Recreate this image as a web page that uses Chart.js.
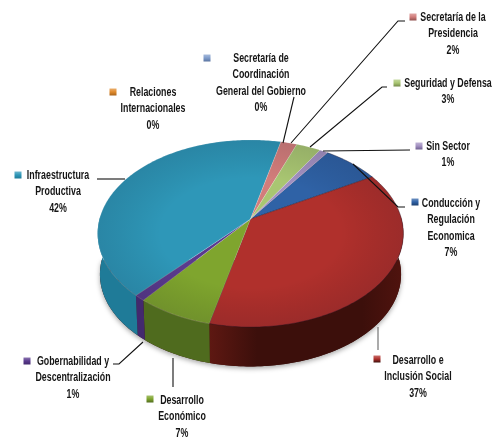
<!DOCTYPE html>
<html>
<head>
<meta charset="utf-8">
<style>
  html, body { margin: 0; padding: 0; background: #fff; }
  canvas { display: block; }
</style>
<script src="https://cdn.jsdelivr.net/npm/chart.js@4"></script>
</head>
<body>
<canvas id="grafico" width="492" height="437"></canvas>
<script>
const categories = ['Conducción y Regulación Economica', 'Desarrollo e Inclusión Social', 'Desarrollo Económico',
  'Gobernabilidad y Descentralización', 'Infraestructura Productiva', 'Relaciones Internacionales',
  'Secretaría de Coordinación General del Gobierno', 'Secretaría de la Presidencia', 'Seguridad y Defensa', 'Sin Sector'];
const values = [7, 37, 7, 1, 42, 0, 0, 2, 3, 1];
const colors = ['#2f62a6', '#b0302c', '#7fa52e', '#5a3a8e', '#2e97b8', '#e08a2c', '#7f9ccb', '#d27d7b', '#a9c672', '#a391c2'];
const wallColors = ['#1d3f6e', '#3c0f0b', '#4f6b1e', '#43296e', '#1f7b98', '#a8641c', '#5a74a0', '#8f4f4d', '#74894a', '#6f6090'];

// text lines of each label, the percentage is added from values
const labelLines = [
  ['Conducción y', 'Regulación', 'Economica'],
  ['Desarrollo e', 'Inclusión Social'],
  ['Desarrollo', 'Económico'],
  ['Gobernabilidad y', 'Descentralización'],
  ['Infraestructura', 'Productiva'],
  ['Relaciones', 'Internacionales'],
  ['Secretaría de', 'Coordinación', 'General del Gobierno'],
  ['Secretaría de la', 'Presidencia'],
  ['Seguridad y Defensa'],
  ['Sin Sector']
];
// [marker x, marker y, text center x, first line y]
const labelPos = [
  [415, 202, 451, 203], [377, 359, 418, 360], [150, 399, 182, 400], [27, 361, 73, 361], [18, 175, 58, 175],
  [113, 92, 153, 92], [207, 58, 261, 58], [413, 17, 453, 17], [397, 83, 448, 83], [419, 146, 448, 146]
];
const leaders = [
  [[405, 207], [398, 207], [353, 164]],
  [[378, 327], [378, 350]],
  [[173, 358], [173, 387]],
  [[113, 364], [119, 364], [143, 342]],
  [[97, 179], [125, 179]],
  [],
  [[294, 97], [283, 143]],
  [[405, 21], [398, 21], [291, 143]],
  [[387, 87], [382, 87], [310, 147]],
  [[410, 150], [323, 151]]
];

const pie = { cx: 250.5, cy: 219, r: 151, squash: 91.3, persp: 0.155, depth: 41 };

// a point of the rim, seen in perspective
function rim(a, bottom) {
  const den = 1 - pie.persp * Math.sin(a);
  const k = bottom ? 0.985 : 1;
  return [
    pie.cx + k * pie.r * Math.cos(a) / den,
    pie.cy + k * pie.squash * Math.sin(a) / den + (bottom ? pie.depth : 0)
  ];
}

function traceRim(ctx, from, to, bottom) {
  const steps = Math.max(2, Math.ceil(Math.abs(to - from) * 60));
  for (let i = 0; i <= steps; i++) {
    const p = rim(from + (to - from) * i / steps, bottom);
    ctx.lineTo(p[0], p[1]);
  }
}

const pie3d = {
  id: 'pie3d',
  beforeDatasetsDraw(chart) {
    const ctx = chart.ctx;
    const arcs = chart.getDatasetMeta(0).data;
    const full = Math.PI * 2;

    ctx.save();
    // soft shadow under the pie
    ctx.shadowColor = 'rgba(0,0,0,0.35)';
    ctx.shadowBlur = 5;
    ctx.shadowOffsetY = 2;
    ctx.fillStyle = '#3a0f0b';
    ctx.beginPath();
    traceRim(ctx, 0, Math.PI, true);
    ctx.closePath();
    ctx.fill();
    ctx.restore();

    // walls, only the front half shows
    arcs.forEach((arc, i) => {
      if (!values[i]) return;
      for (const shift of [0, -full, full]) {
        const from = Math.max(arc.startAngle + shift, -0.04);
        const to = Math.min(arc.endAngle + shift, Math.PI + 0.04);
        if (to <= from) continue;
        const a = rim(from, false), b = rim(to, false);
        const grad = ctx.createLinearGradient(a[0], 0, b[0], 0);
        if (i === 1) {
          grad.addColorStop(0, '#4f130e');
          grad.addColorStop(0.2, '#3c0f0b');
          grad.addColorStop(0.75, wallColors[i]);
          grad.addColorStop(1, '#5e1812');
        } else {
          grad.addColorStop(0, wallColors[i]);
          grad.addColorStop(1, wallColors[i]);
        }
        ctx.fillStyle = grad;
        ctx.beginPath();
        traceRim(ctx, from, to, false);
        traceRim(ctx, to, from, true);
        ctx.closePath();
        ctx.fill();
      }
    });

    // top face
    arcs.forEach((arc, i) => {
      if (!values[i]) return;
      ctx.fillStyle = arc.options.backgroundColor;
      ctx.strokeStyle = i === 0 || i === 1 ? 'rgba(30,20,40,0.45)' : 'rgba(255,255,255,0.22)';
      ctx.lineWidth = 0.8;
      ctx.beginPath();
      ctx.moveTo(pie.cx, pie.cy);
      traceRim(ctx, arc.startAngle, arc.endAngle, false);
      ctx.closePath();
      ctx.fill();
      ctx.stroke();
    });

    // the rim of the face gets slightly darker
    ctx.save();
    ctx.beginPath();
    traceRim(ctx, 0, full, false);
    ctx.closePath();
    ctx.clip();
    ctx.translate(pie.cx, 233);
    ctx.scale(1, 93 / 153);
    const shade = ctx.createRadialGradient(0, 0, 90, 0, 0, 153);
    shade.addColorStop(0, 'rgba(0,0,0,0)');
    shade.addColorStop(1, 'rgba(10,10,30,0.12)');
    ctx.fillStyle = shade;
    ctx.fillRect(-160, -160, 320, 320);
    ctx.restore();

    return false;
  },
  // returning false above also skips afterDatasetsDraw, so labels go here
  afterDraw(chart) {
    const ctx = chart.ctx;
    ctx.save();
    ctx.lineWidth = 1.1;
    leaders.forEach((pts, i) => {
      if (!pts.length) return;
      ctx.strokeStyle = i === 1 ? '#666' : '#111';
      ctx.beginPath();
      pts.forEach((p, j) => j ? ctx.lineTo(p[0], p[1]) : ctx.moveTo(p[0], p[1]));
      ctx.stroke();
    });

    ctx.textAlign = 'center';
    ctx.textBaseline = 'middle';
    ctx.font = 'bold 13px "Liberation Sans", sans-serif';
    categories.forEach((name, i) => {
      const [mx, my, tx, ty] = labelPos[i];
      const grad = ctx.createLinearGradient(0, my - 3.5, 0, my + 3.5);
      grad.addColorStop(0, colors[i] + 'b0');
      grad.addColorStop(0.5, colors[i]);
      grad.addColorStop(1, wallColors[i]);
      ctx.fillStyle = grad;
      ctx.fillRect(mx - 3.5, my - 3.5, 7, 7);

      ctx.fillStyle = '#151515';
      labelLines[i].concat(values[i] + '%').forEach((line, j) => {
        // no narrow face installed, squeeze the text to the reference width
        ctx.save();
        ctx.translate(tx, ty + j * 16.6);
        ctx.scale(0.68, 1);
        ctx.fillText(line, 0, 0);
        ctx.restore();
      });
    });
    ctx.restore();
  }
};

new Chart(document.getElementById('grafico').getContext('2d'), {
  type: 'pie',
  data: {
    labels: categories,
    datasets: [{ data: values, backgroundColor: colors, borderWidth: 0 }]
  },
  options: {
    responsive: false,
    animation: false,
    rotation: 35,
    plugins: { legend: { display: false }, tooltip: { enabled: false } }
  },
  plugins: [pie3d]
});
</script>
</body>
</html>
